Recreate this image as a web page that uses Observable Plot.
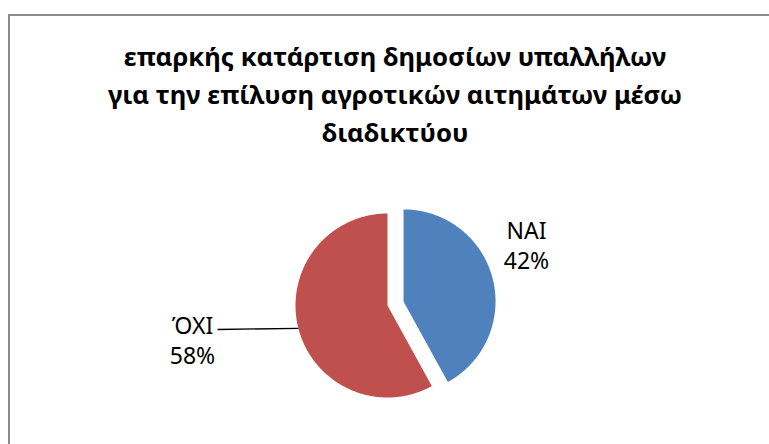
<!DOCTYPE html>
<html><head><meta charset="utf-8">
<script src="https://cdn.jsdelivr.net/npm/d3@7"></script>
<script src="https://cdn.jsdelivr.net/npm/@observablehq/plot@0.6"></script>
<style>
html,body{margin:0;padding:0;background:#fff;}
body{width:769px;height:444px;overflow:hidden;position:relative;font-family:"Noto Sans",sans-serif;}
#frame{position:absolute;left:8px;top:14px;width:820px;height:480px;border-top:2px solid #8a8a8a;border-left:2px solid #8a8a8a;}
#title{position:absolute;left:0;width:790px;top:38px;text-align:center;font-weight:bold;font-size:25.7px;line-height:38px;color:#000;}
#chart{position:absolute;left:0;top:160px;}
</style></head><body>
<div id="frame"></div>
<div id="title"></div>
<div id="chart"></div>
<script>
const titleLines = ["επαρκής κατάρτιση δημοσίων υπαλλήλων", "για την επίλυση αγροτικών αιτημάτων μέσω", "διαδικτύου"];
const categories = ["ΝΑΙ", "ΌΧΙ"];
const shares = [42, 58];
const colors = ["#4F81BD", "#C0504D"];
const explodeFrac = [0.18, 0];

document.getElementById("title").innerHTML = titleLines.join("<br>");

// layout (pixels)
const W = 769, H = 284, R = 92, cx = 387, cy = 145;

const total = d3.sum(shares);
let acc = 0;
const slices = categories.map((c, i) => {
  const a0 = acc / total * 2 * Math.PI;
  acc += shares[i];
  const a1 = acc / total * 2 * Math.PI;
  return {c, i, a0, a1, mid: (a0 + a1) / 2};
});

function slicePoints(s) {
  const ox = explodeFrac[s.i] * Math.sin(s.mid), oy = explodeFrac[s.i] * Math.cos(s.mid);
  const pts = [{x: ox, y: oy}];
  const n = Math.ceil((s.a1 - s.a0) / (Math.PI / 360));
  for (let k = 0; k <= n; k++) {
    const a = s.a0 + (s.a1 - s.a0) * k / n;
    pts.push({x: ox + Math.sin(a), y: oy + Math.cos(a)});
  }
  return pts;
}

// label placement (in radius units relative to pie centre)
const labelPos = [
  {x: (526 - cx) / R, y: (cy - 84) / R},
  {x: (192 - cx) / R, y: (cy - 179) / R}
];
const labels = slices.map((s, i) => ({text: `${s.c}\n${shares[i]}%`, x: labelPos[i].x, y: labelPos[i].y}));

const red = slices[1];
const leader = [{x1: Math.sin(red.mid), y1: Math.cos(red.mid), x2: (217 - cx) / R, y2: (cy - 169) / R}];

const plot = Plot.plot({
  width: W, height: H,
  margin: 0,
  x: {domain: [-cx / R, (W - cx) / R], axis: null},
  y: {domain: [-(H - cy) / R, cy / R], axis: null},
  style: {fontFamily: "'Noto Sans', sans-serif", background: "transparent", overflow: "visible"},
  marks: [
    ...slices.map(s => Plot.line(slicePoints(s), {x: "x", y: "y", fill: colors[s.i], stroke: "none", curve: "linear-closed"})),
    Plot.link(leader, {x1: "x1", y1: "y1", x2: "x2", y2: "y2", stroke: "#000", strokeWidth: 1.3}),
    Plot.text(labels, {x: "x", y: "y", text: "text", fontSize: 23, lineHeight: 1.32, fill: "#000", textAnchor: "middle", lineAnchor: "middle"})
  ]
});
document.getElementById("chart").appendChild(plot);
</script>
</body></html>
